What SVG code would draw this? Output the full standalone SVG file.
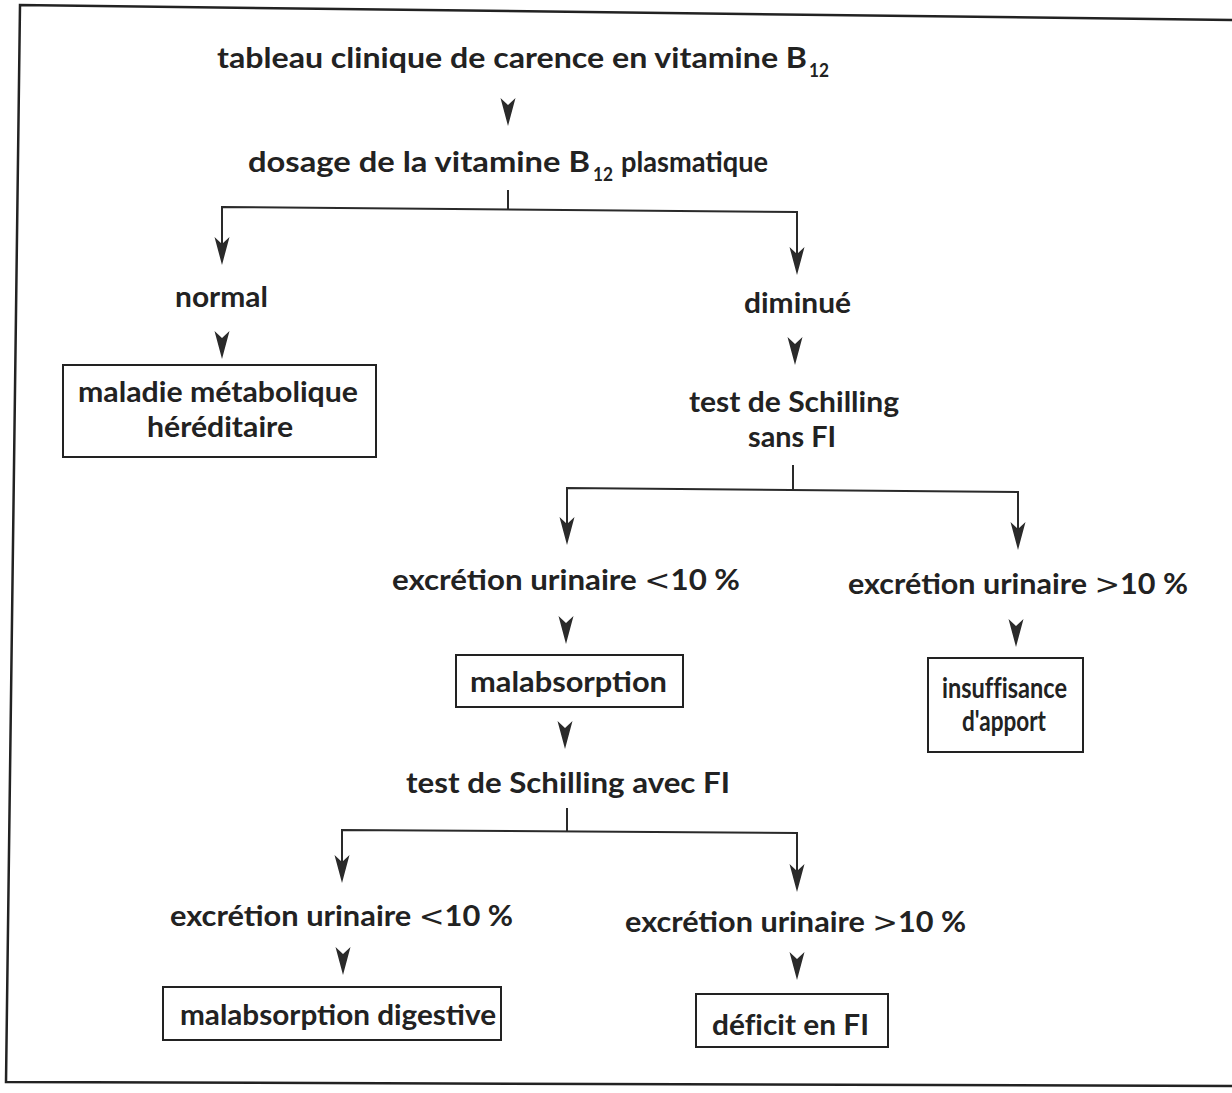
<svg xmlns="http://www.w3.org/2000/svg" width="1232" height="1093" viewBox="0 0 1232 1093">
  <style>
    .t { font-family: Lato, "Open Sans", "Liberation Sans", sans-serif; font-size: 28px; font-weight: 700; fill: #222; }
    .sub { font-family: Lato, "Open Sans", "Liberation Sans", sans-serif; font-size: 18px; font-weight: 700; fill: #222; }
    .op { font-family: "DejaVu Sans", sans-serif; font-weight: 400; font-size: 28px; }
    .box { fill: none; stroke: #222; stroke-width: 2; }
    .ln { fill: none; stroke: #2a2a2a; stroke-width: 2; }
    .frame { fill: none; stroke: #222; stroke-width: 2.5; }
  </style>
  <defs>
    <!-- notched arrowhead, tip at origin pointing down -->
    <path id="ah" d="M-7.5,-28 L0,0 L7.5,-28 L0,-21 Z" fill="#2a2a2a"/>
  </defs>
  <rect width="1232" height="1093" fill="#fff"/>

  <!-- page frame -->
  <g id="frame">
    <polyline class="frame" points="1232,20 20,5 6,1082 1232,1086"/>
  </g>

  <g id="n-tableau">
    <text class="t" x="217" y="68" textLength="590" lengthAdjust="spacingAndGlyphs">tableau clinique de carence en vitamine B</text>
    <text class="sub" x="809" y="77" textLength="20" lengthAdjust="spacingAndGlyphs">12</text>
  </g>
  <g id="n-dosage">
    <text class="t" x="248" y="172" textLength="342" lengthAdjust="spacingAndGlyphs">dosage de la vitamine B</text>
    <text class="sub" x="593" y="181" textLength="20" lengthAdjust="spacingAndGlyphs">12</text>
    <text class="t" x="621" y="172" textLength="147" lengthAdjust="spacingAndGlyphs">plasmatique</text>
  </g>
  <g id="n-normal">
    <text class="t" x="175" y="307" textLength="93" lengthAdjust="spacingAndGlyphs">normal</text>
  </g>
  <g id="n-maladie">
    <rect class="box" x="63" y="365" width="313" height="92"/>
    <text class="t" x="78" y="402" textLength="280" lengthAdjust="spacingAndGlyphs">maladie métabolique</text>
    <text class="t" x="147" y="437" textLength="146" lengthAdjust="spacingAndGlyphs">héréditaire</text>
  </g>
  <g id="n-diminue">
    <text class="t" x="744" y="313" textLength="107" lengthAdjust="spacingAndGlyphs">diminué</text>
  </g>
  <g id="n-schilling1">
    <text class="t" x="689" y="412" textLength="210" lengthAdjust="spacingAndGlyphs">test de Schilling</text>
    <text class="t" x="748" y="447" textLength="88" lengthAdjust="spacingAndGlyphs">sans FI</text>
  </g>
  <g id="n-exc1-low">
    <text class="t" x="392" y="590" textLength="348" lengthAdjust="spacingAndGlyphs">excrétion urinaire <tspan class="op">&lt;</tspan>10 %</text>
  </g>
  <g id="n-exc1-high">
    <text class="t" x="848" y="594" textLength="340" lengthAdjust="spacingAndGlyphs">excrétion urinaire <tspan class="op">&gt;</tspan>10 %</text>
  </g>
  <g id="n-malabsorption">
    <rect class="box" x="456" y="655" width="227" height="52"/>
    <text class="t" x="470" y="692" textLength="197" lengthAdjust="spacingAndGlyphs">malabsorption</text>
  </g>
  <g id="n-insuffisance">
    <rect class="box" x="928" y="658" width="155" height="94"/>
    <text class="t" x="942" y="698" textLength="125" lengthAdjust="spacingAndGlyphs" style="font-variant-ligatures:none">insuffisance</text>
    <text class="t" x="962" y="731" textLength="84" lengthAdjust="spacingAndGlyphs">d'apport</text>
  </g>
  <g id="n-schilling2">
    <text class="t" x="406" y="793" textLength="324" lengthAdjust="spacingAndGlyphs">test de Schilling avec FI</text>
  </g>
  <g id="n-exc2-low">
    <text class="t" x="170" y="926" textLength="343" lengthAdjust="spacingAndGlyphs">excrétion urinaire <tspan class="op">&lt;</tspan>10 %</text>
  </g>
  <g id="n-exc2-high">
    <text class="t" x="625" y="932" textLength="341" lengthAdjust="spacingAndGlyphs">excrétion urinaire <tspan class="op">&gt;</tspan>10 %</text>
  </g>
  <g id="n-digestive">
    <rect class="box" x="163" y="987" width="338" height="53"/>
    <text class="t" x="180" y="1025" textLength="316" lengthAdjust="spacingAndGlyphs">malabsorption digestive</text>
  </g>
  <g id="n-deficit">
    <rect class="box" x="696" y="994" width="192" height="53"/>
    <text class="t" x="712" y="1035" textLength="157" lengthAdjust="spacingAndGlyphs" style="font-variant-ligatures:none">déficit en FI</text>
  </g>

  <g id="connectors">
    <!-- tableau -> dosage -->
    <use href="#ah" x="508" y="126"/>
    <!-- dosage splits into normal / diminué -->
    <polyline class="ln" points="508,190 508,209"/>
    <polyline class="ln" points="222,260 222,207 797,212 797,268"/>
    <use href="#ah" x="222" y="265"/>
    <use href="#ah" x="797" y="275"/>
    <!-- normal -> maladie -->
    <use href="#ah" x="222" y="359"/>
    <!-- diminué -> test sans FI -->
    <use href="#ah" x="795" y="365"/>
    <!-- test sans FI splits -->
    <polyline class="ln" points="793,465 793,490"/>
    <polyline class="ln" points="567,540 567,488 1018,492 1018,545"/>
    <use href="#ah" x="567" y="545"/>
    <use href="#ah" x="1018" y="550"/>
    <!-- excrétion -> malabsorption / insuffisance -->
    <use href="#ah" x="566" y="644"/>
    <use href="#ah" x="1016" y="647"/>
    <!-- malabsorption -> test avec FI -->
    <use href="#ah" x="565" y="749"/>
    <!-- test avec FI splits -->
    <polyline class="ln" points="567,808 567,831"/>
    <polyline class="ln" points="342,878 342,830 797,833 797,887"/>
    <use href="#ah" x="342" y="883"/>
    <use href="#ah" x="797" y="892"/>
    <!-- excrétion -> digestive / déficit -->
    <use href="#ah" x="343" y="975"/>
    <use href="#ah" x="797" y="980"/>
  </g>
</svg>
